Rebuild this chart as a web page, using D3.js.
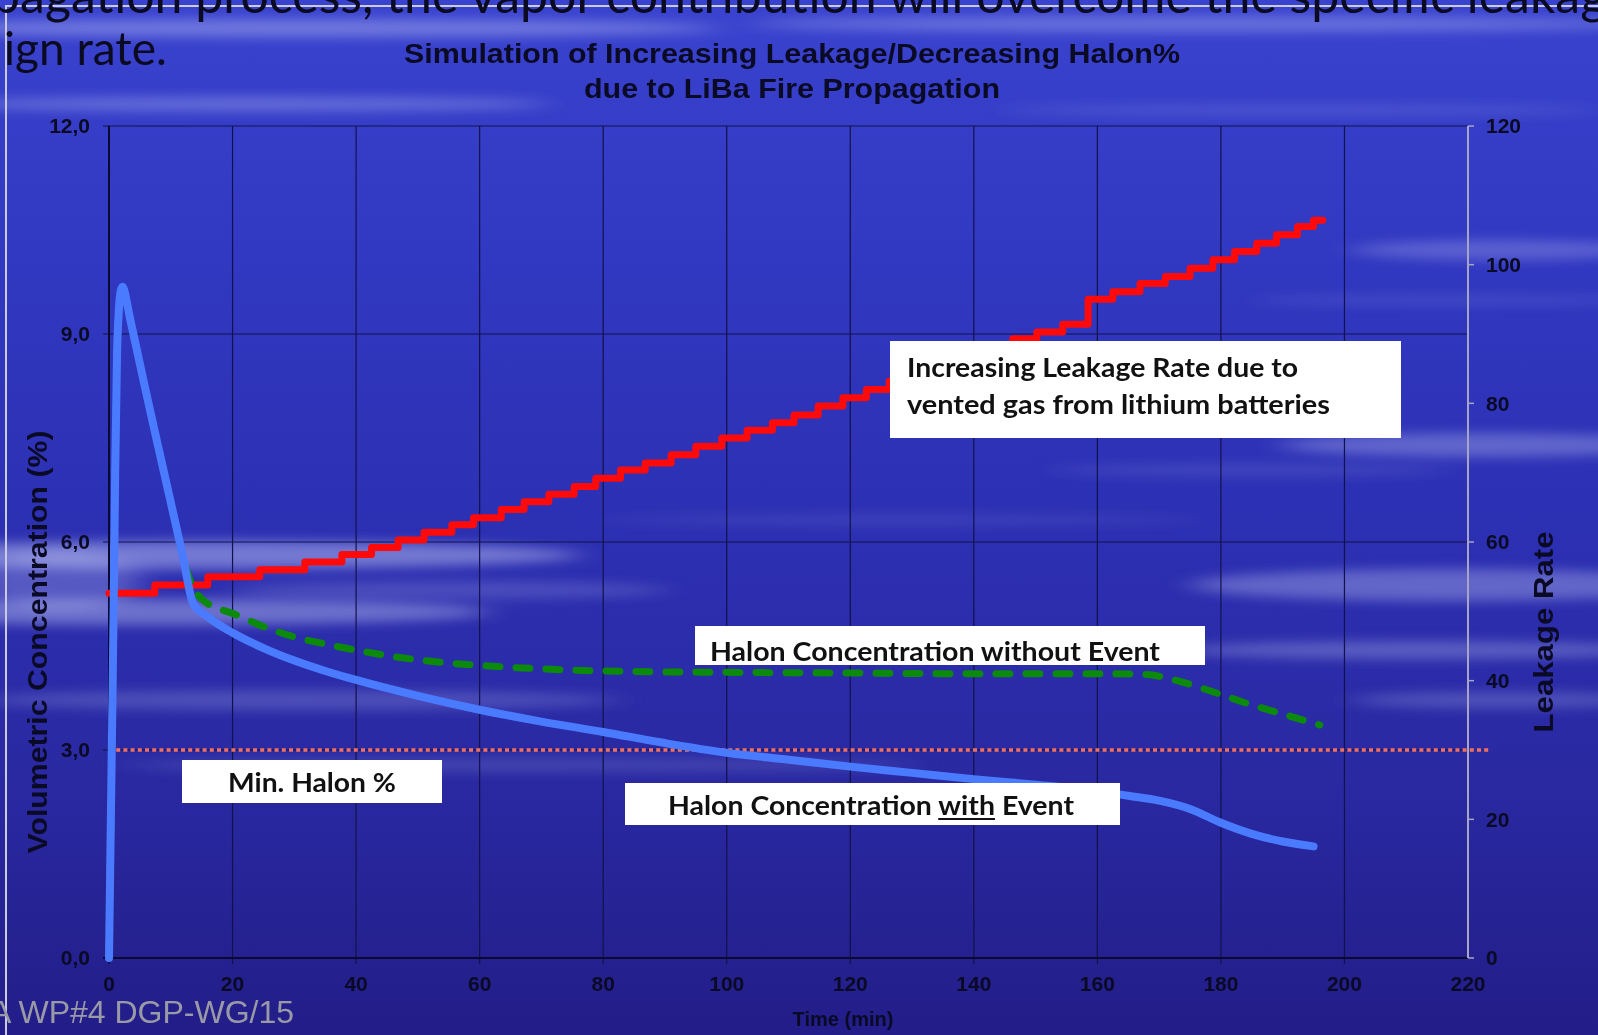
<!DOCTYPE html>
<html><head><meta charset="utf-8">
<script src="https://cdn.jsdelivr.net/npm/d3@7"></script>
<style>html,body{margin:0;padding:0;background:#2c30b2;overflow:hidden}</style>
</head><body>
<svg id="c" width="1598" height="1035"></svg>
<script>
// ---------- data ----------
const timeWith   = [0, 0.3, 0.6, 0.85, 1.0, 1.3, 1.6, 1.9, 2.2, 2.5, 2.8, 3.3, 4, 6, 8, 10, 12, 13.6, 16, 20, 25, 30, 35, 40, 50, 60, 70, 80, 90, 100, 110, 120, 130, 140, 150, 160, 165, 170, 175, 180, 185, 190, 195];
const halonWith  = [0, 2.0, 4.0, 5.8, 7.0, 8.7, 9.35, 9.62, 9.68, 9.62, 9.5, 9.27, 8.98, 8.16, 7.36, 6.57, 5.78, 5.12, 4.92, 4.69, 4.47, 4.29, 4.14, 4.01, 3.78, 3.58, 3.41, 3.26, 3.1, 2.96, 2.86, 2.76, 2.67, 2.58, 2.5, 2.41, 2.34, 2.27, 2.15, 1.95, 1.79, 1.68, 1.61];
const timeWithout  = [0, 0.3, 0.6, 0.85, 1.0, 1.3, 1.6, 1.9, 2.2, 2.5, 2.8, 3.3, 4, 6, 8, 10, 12, 13, 14, 16, 18, 20, 25, 30, 35, 40, 50, 60, 70, 80, 100, 120, 140, 160, 168, 172, 176, 180, 185, 190, 196];
const halonWithout = [0, 2.0, 4.0, 5.8, 7.0, 8.7, 9.35, 9.62, 9.68, 9.62, 9.5, 9.27, 8.98, 8.16, 7.36, 6.57, 5.78, 5.48, 5.29, 5.11, 5.03, 4.97, 4.78, 4.63, 4.53, 4.44, 4.3, 4.22, 4.17, 4.14, 4.12, 4.11, 4.1, 4.1, 4.09, 4.02, 3.92, 3.8, 3.65, 3.52, 3.36];
const leakTime = [0, 7.4, 16, 24.4, 31.7, 37.7, 42.5, 46.8, 51, 55.5, 59, 63.5, 67.2, 71.2, 75.3, 78.8, 82.8, 86.8, 91, 95, 99.2, 103.3, 107.4, 110.9, 114.8, 118.8, 122.6, 126.3, 130.2, 134.2, 138.2, 142.2, 146.3, 150.2, 154.4, 158.5, 162.5, 166.9, 171, 175, 178.7, 182.2, 185.8, 189, 192.4, 195, 196.5];
const leakRate = [52.6, 53.8, 55.0, 56.0, 57.1, 58.2, 59.2, 60.3, 61.4, 62.5, 63.5, 64.7, 65.8, 66.9, 68.0, 69.2, 70.4, 71.4, 72.6, 73.8, 75.0, 76.1, 77.2, 78.3, 79.6, 80.8, 82.0, 83.2, 84.4, 85.6, 86.8, 88.0, 89.3, 90.3, 91.4, 95.0, 96.1, 97.3, 98.3, 99.5, 100.7, 101.9, 103.1, 104.3, 105.5, 106.4, 106.4];
const minHalonTime  = [0, 223.7];
const minHalonValue = [3.0, 3.0];
const xTicks = [0, 20, 40, 60, 80, 100, 120, 140, 160, 180, 200, 220];
const yLeftTicks  = [0, 3, 6, 9, 12];
const yLeftLabels = ["0,0", "3,0", "6,0", "9,0", "12,0"];
const yRightTicks = [0, 20, 40, 60, 80, 100, 120];
const titleLines = ["Simulation of Increasing Leakage/Decreasing Halon%", "due to LiBa Fire Propagation"];

// ---------- setup ----------
const W = 1598, H = 1035;
const svg = d3.select("#c");
const m = {l:109, r:1468, t:126, b:958};
const x  = d3.scaleLinear().domain([0,220]).range([m.l, m.r]);
const yL = d3.scaleLinear().domain([0,12]).range([m.b, m.t]);
const yR = d3.scaleLinear().domain([0,120]).range([m.b, m.t]);
const ARIAL = "'Liberation Sans', Arial, sans-serif";
const CAL = "Lato, 'Noto Sans', sans-serif";

const defs = svg.append("defs");
const bg = defs.append("linearGradient").attr("id","bg").attr("x1",0).attr("y1",0).attr("x2",0).attr("y2",1);
[[0,"#3a43cf"],[0.25,"#3138c1"],[0.5,"#2c30b3"],[0.75,"#2a29a2"],[1,"#221d88"]].forEach(s=>bg.append("stop").attr("offset",s[0]).attr("stop-color",s[1]));
defs.append("filter").attr("id","blur").attr("x","-20%").attr("y","-300%").attr("width","140%").attr("height","700%")
  .append("feGaussianBlur").attr("stdDeviation","16 6");

svg.append("rect").attr("width",W).attr("height",H).attr("fill","url(#bg)");
const streaks = [
  [300,28,420,9,.35],[1200,24,450,8,.3],[250,104,300,7,.3],[1300,110,300,5,.15],
  [1500,250,150,10,.25],[1450,300,200,5,.12],[1480,445,200,12,.3],[1250,470,200,6,.12],
  [200,555,380,14,.42],[150,612,340,13,.38],[450,590,220,9,.18],[1450,585,260,16,.32],[1420,650,240,9,.28],
  [300,700,320,10,.2],[520,765,400,7,.15],[900,520,300,5,.1],[1500,700,150,8,.22],[60,580,80,30,.25]
];
svg.append("g").attr("filter","url(#blur)").selectAll("ellipse").data(streaks).join("ellipse")
  .attr("cx",d=>d[0]).attr("cy",d=>d[1]).attr("rx",d=>d[2]).attr("ry",d=>d[3])
  .attr("fill","#d8ddff").attr("opacity",d=>d[4]);

// slide frame and background slide text
svg.append("path").attr("d",`M6,${H} V6 H${W}`).attr("fill","none").attr("stroke","#c9cbe0").attr("stroke-width",2);
svg.append("text").attr("x",-8).attr("y",13).attr("font-family",CAL).attr("font-size",50).attr("fill","#0a0a20")
  .text("pagation process, the vapor contribution will overcome the specific leakage");
svg.append("text").attr("x",4).attr("y",65).attr("font-family",CAL).attr("font-size",46).attr("fill","#0a0a20")
  .text("ign rate.");

// ---------- grid ----------
const grid = svg.append("g");
grid.selectAll("line.v").data(xTicks.filter(t=>t>0 && t<220)).join("line")
  .attr("x1",d=>x(d)).attr("x2",d=>x(d)).attr("y1",m.t).attr("y2",m.b+6)
  .attr("stroke","#12124a").attr("stroke-width",1.2);
grid.selectAll("line.h").data(yLeftTicks.filter(t=>t>0)).join("line")
  .attr("x1",m.l-6).attr("x2",m.r).attr("y1",d=>yL(d)).attr("y2",d=>yL(d))
  .attr("stroke","#12124a").attr("stroke-width",1.2);

// axes
svg.append("line").attr("x1",m.l).attr("x2",m.l).attr("y1",m.t).attr("y2",m.b).attr("stroke","#0a0a30").attr("stroke-width",2);
svg.append("line").attr("x1",m.l-6).attr("x2",m.r).attr("y1",m.b).attr("y2",m.b).attr("stroke","#0a0a30").attr("stroke-width",2);
svg.append("line").attr("x1",m.l).attr("x2",m.l).attr("y1",m.b).attr("y2",m.b+6).attr("stroke","#0a0a30").attr("stroke-width",1.2);
svg.append("line").attr("x1",m.r).attr("x2",m.r).attr("y1",m.t).attr("y2",m.b).attr("stroke","#a4a6c4").attr("stroke-width",2);
svg.selectAll("line.rt").data(yRightTicks).join("line")
  .attr("x1",m.r).attr("x2",m.r+6).attr("y1",d=>yR(d)).attr("y2",d=>yR(d)).attr("stroke","#a4a6c4").attr("stroke-width",1.5);

// tick labels
svg.append("g").selectAll("text").data(yLeftTicks).join("text")
  .attr("x",90).attr("y",d=>yL(d)).attr("dy","0.35em").attr("text-anchor","end")
  .attr("font-family",ARIAL).attr("font-weight","bold").attr("font-size",21).attr("fill","#0a0a25")
  .text((d,i)=>yLeftLabels[i]);
svg.append("g").selectAll("text").data(yRightTicks).join("text")
  .attr("x",1486).attr("y",d=>yR(d)).attr("dy","0.35em").attr("text-anchor","start")
  .attr("font-family",ARIAL).attr("font-weight","bold").attr("font-size",21).attr("fill","#0a0a25")
  .text(d=>d);
svg.append("g").selectAll("text").data(xTicks).join("text")
  .attr("x",d=>x(d)).attr("y",991).attr("text-anchor","middle")
  .attr("font-family",ARIAL).attr("font-weight","bold").attr("font-size",21).attr("fill","#0a0a25")
  .text(d=>d);

// axis titles
svg.append("text").attr("transform","translate(47,642) rotate(-90)").attr("text-anchor","middle")
  .attr("font-family",ARIAL).attr("font-weight","bold").attr("font-size",27).attr("fill","#0a0a25")
  .attr("textLength",423).attr("lengthAdjust","spacingAndGlyphs")
  .text("Volumetric Concentration (%)");
svg.append("text").attr("transform","translate(1553,632) rotate(-90)").attr("text-anchor","middle")
  .attr("font-family",ARIAL).attr("font-weight","bold").attr("font-size",28).attr("fill","#0a0a25")
  .attr("textLength",201).attr("lengthAdjust","spacingAndGlyphs")
  .text("Leakage  Rate");
svg.append("text").attr("x",843).attr("y",1026).attr("text-anchor","middle")
  .attr("font-family",ARIAL).attr("font-weight","bold").attr("font-size",20).attr("fill","#0a0a25")
  .text("Time (min)");

// title
svg.append("text").attr("x",792).attr("y",63).attr("text-anchor","middle")
  .attr("font-family",ARIAL).attr("font-weight","bold").attr("font-size",28).attr("fill","#0a0a25")
  .attr("textLength",776).attr("lengthAdjust","spacingAndGlyphs").text(titleLines[0]);
svg.append("text").attr("x",792).attr("y",98).attr("text-anchor","middle")
  .attr("font-family",ARIAL).attr("font-weight","bold").attr("font-size",28).attr("fill","#0a0a25")
  .attr("textLength",416).attr("lengthAdjust","spacingAndGlyphs").text(titleLines[1]);

// ---------- series ----------
const lineL = d3.line().x(d=>x(d[0])).y(d=>yL(d[1])).curve(d3.curveMonotoneX);
svg.append("path").attr("d",d3.line().x(d=>x(d[0])).y(d=>yL(d[1]))(d3.zip(minHalonTime,minHalonValue)))
  .attr("fill","none").attr("stroke","#f07060").attr("stroke-width",3.5).attr("stroke-dasharray","4,3.2");
svg.append("path").attr("d",d3.line().x(d=>x(d[0])).y(d=>yR(d[1])).curve(d3.curveStepAfter)(d3.zip(leakTime,leakRate)))
  .attr("fill","none").attr("stroke","#ff0a0a").attr("stroke-width",7).attr("stroke-linejoin","round").attr("stroke-linecap","round");
svg.append("path").attr("d",lineL(d3.zip(timeWithout,halonWithout)))
  .attr("fill","none").attr("stroke","#0b8a0b").attr("stroke-width",7).attr("stroke-dasharray","14,16").attr("stroke-linecap","round");
svg.append("path").attr("d",lineL(d3.zip(timeWith,halonWith)))
  .attr("fill","none").attr("stroke","#4a7bff").attr("stroke-width",8).attr("stroke-linejoin","round").attr("stroke-linecap","round");

// ---------- label boxes ----------
function box(x0,y0,w,h){ svg.append("rect").attr("x",x0).attr("y",y0).attr("width",w).attr("height",h).attr("fill","#ffffff"); }
function btxt(tx,ty,str,len){
  return svg.append("text").attr("x",tx).attr("y",ty).attr("font-family",CAL).attr("font-weight","bold")
    .attr("font-size",26).attr("fill","#111111").attr("textLength",len).attr("lengthAdjust","spacingAndGlyphs").text(str);
}
box(890,341,511,97);
btxt(907,377,"Increasing Leakage Rate due to",391);
btxt(907,414,"vented gas from lithium batteries",423);
box(695,626,510,39);
btxt(710,661,"Halon Concentration without Event",450);
box(182,760,260,43);
btxt(228,792,"Min. Halon %",168);
box(625,783,495,42);
const t4 = btxt(668,815,"Halon Concentration with Event",406);
const s = "Halon Concentration with Event", i0 = s.indexOf("with");
const node = t4.node();
const ux0 = node.getStartPositionOfChar(i0).x, ux1 = node.getEndPositionOfChar(i0+3).x;
svg.append("line").attr("x1",ux0).attr("x2",ux1).attr("y1",819).attr("y2",819).attr("stroke","#111").attr("stroke-width",2);

// footer
svg.append("text").attr("x",-10).attr("y",1023).attr("font-family",ARIAL).attr("font-size",32).attr("fill","#9a9aa6")
  .text("A WP#4 DGP-WG/15");
</script>
</body></html>
